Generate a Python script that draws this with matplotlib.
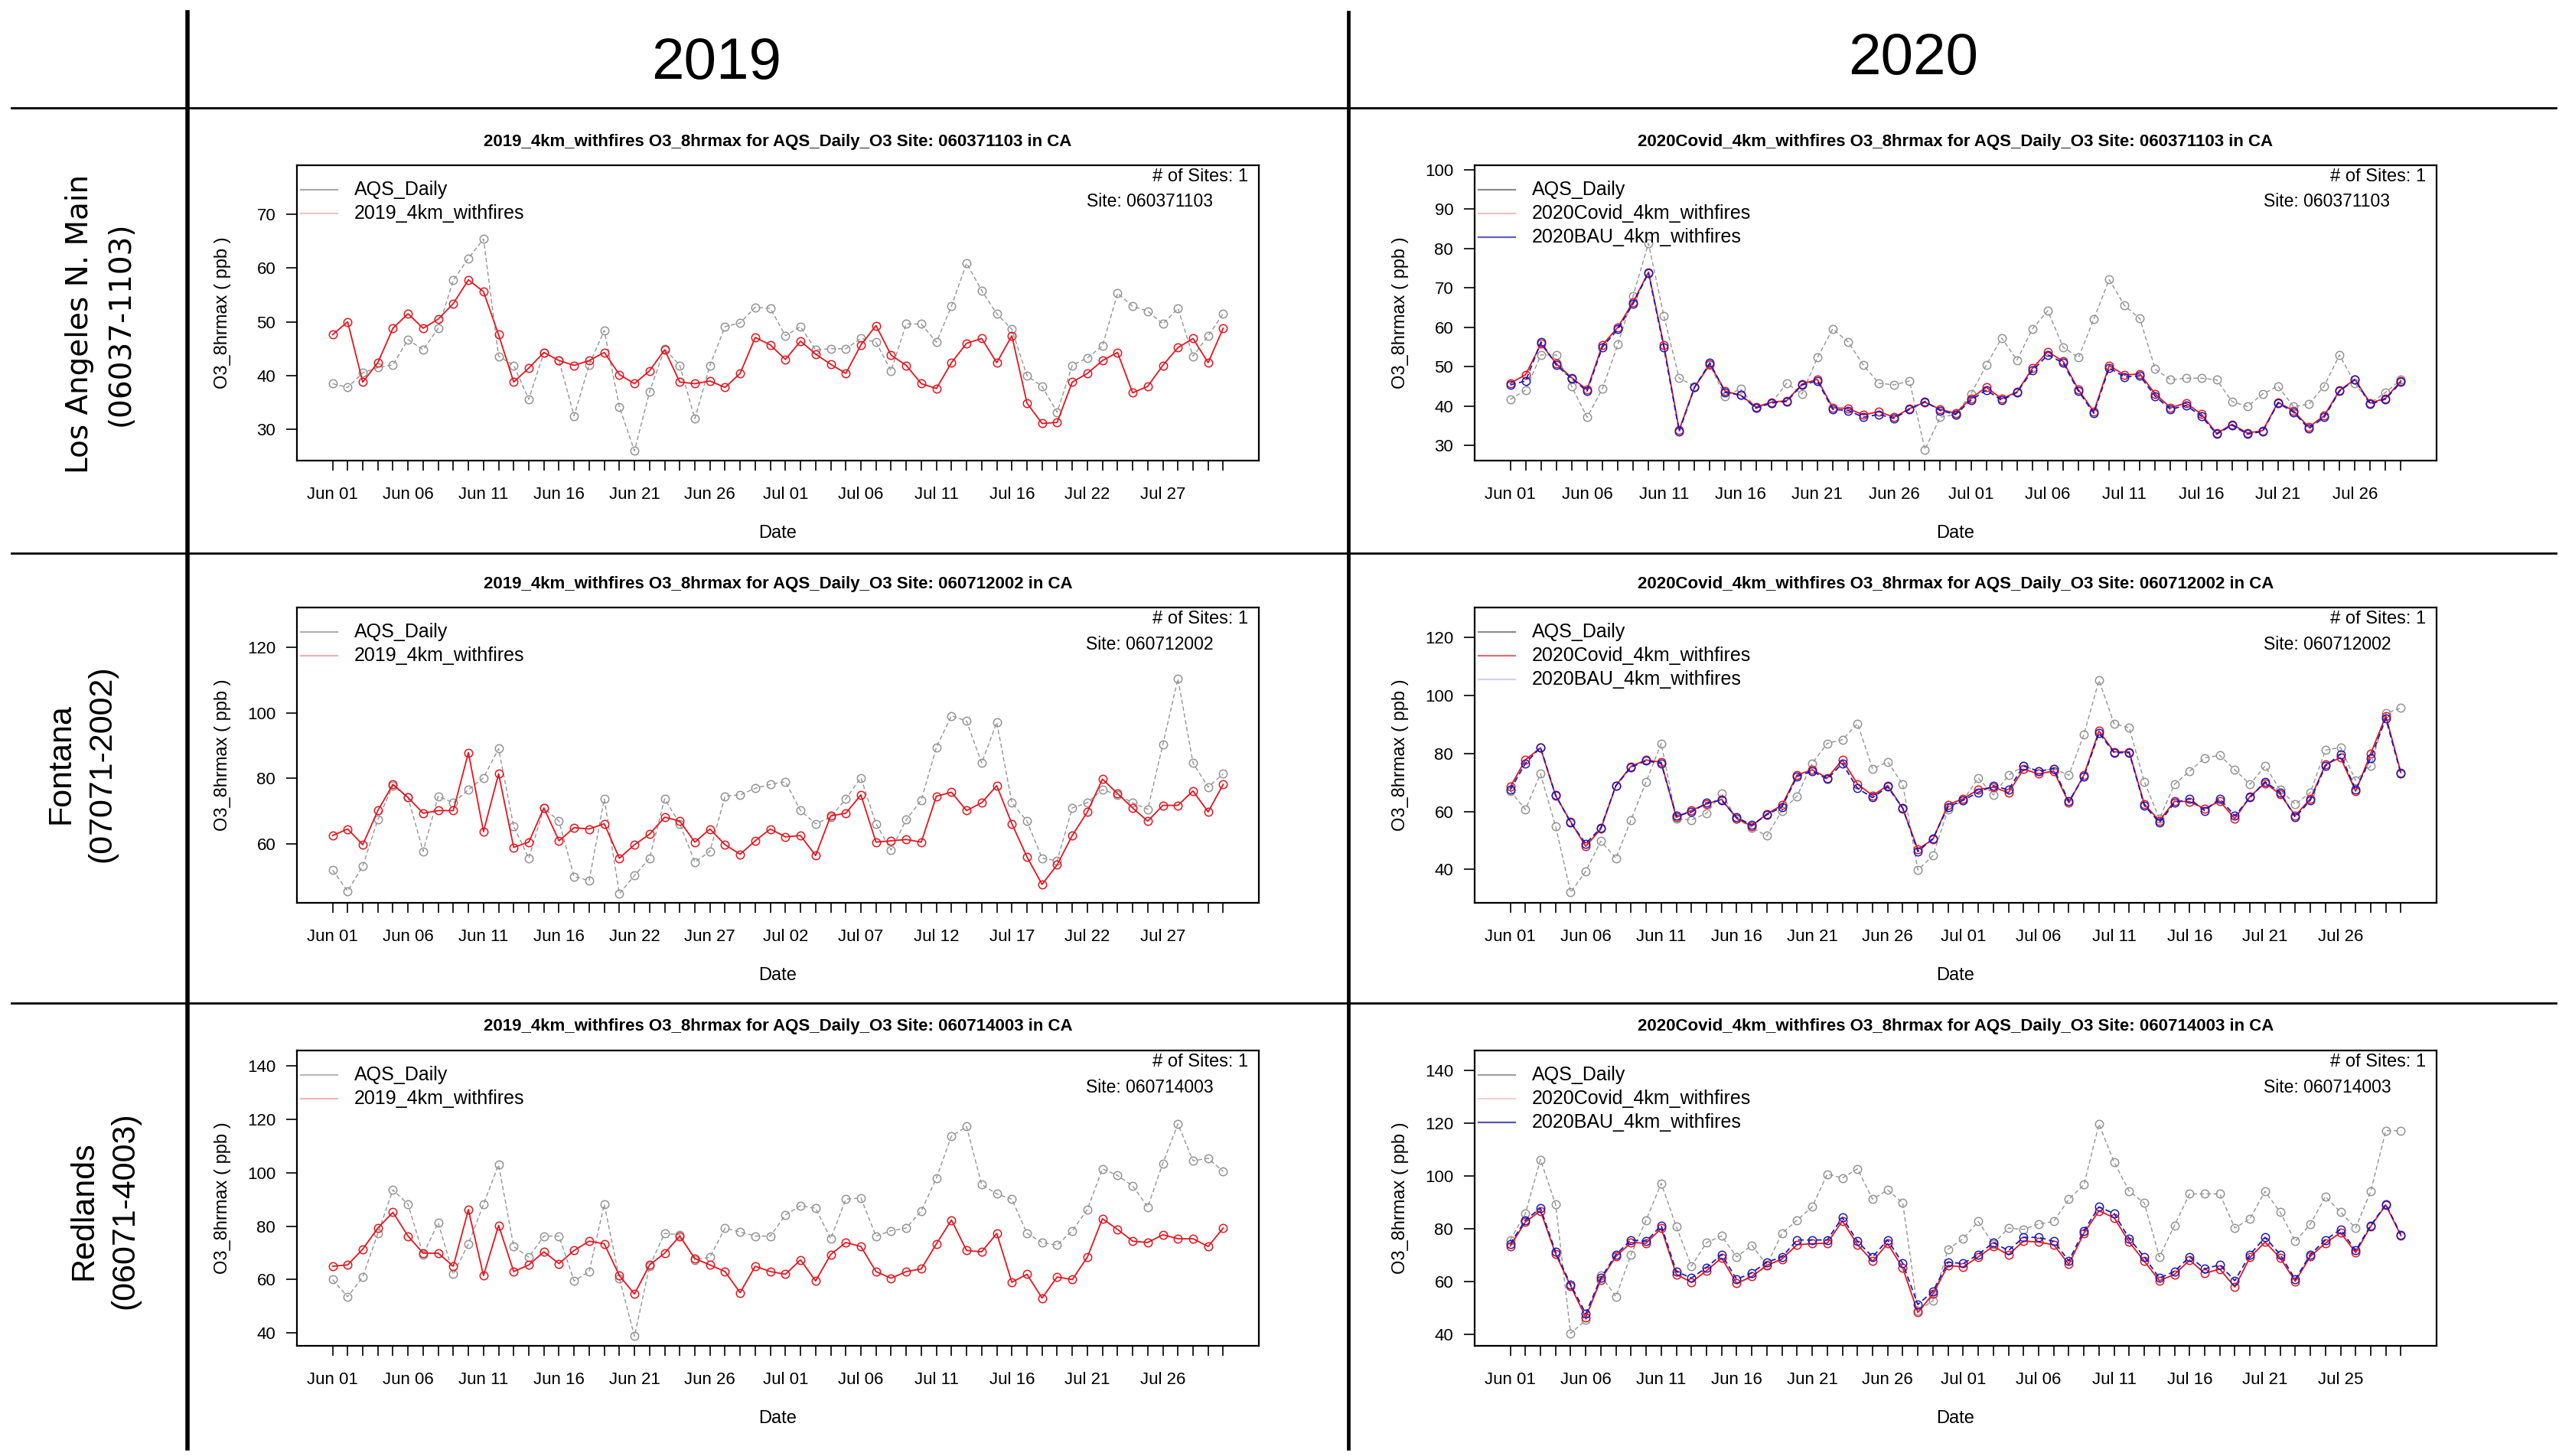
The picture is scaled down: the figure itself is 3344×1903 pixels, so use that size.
import matplotlib
matplotlib.use("Agg")
import matplotlib.pyplot as plt
from matplotlib.lines import Line2D

plt.rcParams['font.family'] = ['Liberation Sans', 'DejaVu Sans']

W, H = 3344, 1903

# ---------------- data (ppb) ----------------
la_2019_obs = [38.5, 37.8, 40.5, 41.5, 42, 46.7, 44.8, 48.8, 57.7, 61.8,
               65.4, 43.6, 41.9, 35.6, 44.3, 42.8, 32.5, 42, 48.4, 34.2,
               26, 37, 45, 41.9, 32, 41.9, 49.1, 49.8, 52.7, 52.5,
               47.4, 49.1, 44.8, 45, 45, 46.9, 46.2, 40.9, 49.6, 49.6,
               46.2, 52.9, 60.9, 55.8, 51.5, 48.6, 40, 38, 33.2, 41.9,
               43.3, 45.5, 55.3, 52.9, 52, 49.6, 52.5, 43.6, 47.4, 51.5]
la_2019_mod = [47.6, 50, 38.8, 42.4, 48.8, 51.5, 48.8, 50.5, 53.4, 57.8,
               55.6, 47.6, 38.8, 41.4, 44.3, 42.8, 41.9, 42.8, 44.3, 40.2,
               38.5, 40.9, 44.8, 38.8, 38.5, 39, 37.8, 40.4, 47.1, 45.7,
               43, 46.4, 44, 42.1, 40.4, 45.7, 49.3, 43.8, 41.9, 38.5,
               37.6, 42.4, 46, 46.9, 42.4, 47.4, 34.9, 31.1, 31.3, 38.8,
               40.4, 42.8, 44.3, 36.8, 38, 41.9, 45.2, 46.9, 42.4, 48.8]

la_2020_obs = [41.7, 44.1, 53, 53, 45, 37.2, 44.4, 55.6, 68, 81.3,
               62.9, 47.1, 45.1, 50.4, 42.5, 44.4, 39.5, 40.8, 45.8, 43.1,
               52.3, 59.6, 56.3, 50.4, 45.8, 45.4, 46.4, 29, 37.2, 37.9,
               43.1, 50.4, 57.3, 51.7, 59.6, 64.2, 55, 52.3, 62.1, 72.1,
               65.5, 62.2, 49.4, 46.7, 47.1, 47.1, 46.7, 41.2, 39.9, 43.1,
               45.1, 39.9, 40.5, 45.1, 53, 45.8, 40.8, 43.5, 46.7]
la_2020_covid = [45.8, 48.0, 55.8, 50.8, 47.2, 44.2, 55.5, 60.0, 66.4, 74.0,
                 55.5, 34.0, 44.8, 50.6, 43.8, 42.8, 39.8, 41.0, 41.4, 45.6,
                 46.8, 39.6, 39.4, 37.8, 38.6, 37.2, 39.4, 41.0, 39.2, 38.2,
                 42.0, 44.8, 41.9, 43.6, 49.6, 53.8, 51.4, 44.2, 38.6, 50.3,
                 47.9, 48.2, 43.1, 39.6, 40.8, 38.0, 33.1, 35.4, 33.2, 33.8,
                 41.0, 38.8, 34.7, 37.6, 44.0, 46.8, 40.8, 42.0, 46.4]
la_2020_bau = [45.4, 46.4, 56.3, 50.4, 47, 43.8, 55, 59.5, 66, 73.8,
               55, 33.6, 44.8, 51, 43.5, 42.8, 39.5, 40.8, 41.2, 45.4,
               46.4, 39.2, 38.9, 37.2, 37.9, 36.9, 39.2, 41.2, 38.9, 37.9,
               41.5, 44.1, 41.5, 43.5, 49, 53, 51, 43.8, 38.2, 49.7,
               47.4, 47.7, 42.5, 39.2, 40.2, 37.5, 32.9, 35.2, 32.9, 33.6,
               40.8, 38.5, 34.3, 37.2, 43.8, 46.7, 40.5, 41.8, 46.1]

fon_2019_obs = [52.1, 45.7, 53.3, 67.4, 77.8, 74.2, 57.8, 74.6, 72.6, 76.6,
                80.2, 89.1, 65.4, 55.7, 71, 67, 50.1, 48.9, 73.8, 44.9,
                50.4, 55.7, 73.8, 66.2, 54.5, 57.8, 74.6, 75, 77, 78.2,
                79, 70.2, 66.2, 68.2, 73.8, 80.2, 66.2, 58.2, 67.4, 73.4,
                89.5, 99.1, 97.5, 84.7, 97.1, 72.6, 67, 55.7, 54.9, 71,
                72.6, 76.6, 75, 72.6, 70.6, 90.3, 110.4, 84.7, 77.4, 81.4]
fon_2019_mod = [62.6, 64.6, 59.8, 70.2, 78.2, 74.2, 69.4, 70.2, 70.2, 87.9,
                63.8, 81.4, 59, 60.6, 71, 61, 65, 64.6, 66.2, 55.7,
                59.8, 63, 68.2, 67, 60.6, 64.6, 59.8, 56.9, 61, 64.6,
                62.2, 62.6, 56.5, 68.6, 69.4, 75, 60.6, 61, 61.4, 60.6,
                74.6, 75.8, 70.2, 72.6, 77.8, 66.2, 56.1, 47.7, 53.7, 62.6,
                69.8, 79.8, 75.4, 71, 67, 71.8, 71.8, 76.2, 69.8, 78.2]

fon_2020_obs = [67.1, 60.7, 73, 55, 32.1, 39.4, 49.8, 43.9, 57.1, 70.3,
                83.5, 57.5, 57.1, 59.4, 66.2, 57.5, 54.4, 51.6, 60.3, 65.3,
                76.6, 83.5, 84.8, 90.3, 74.8, 77.1, 69.4, 39.8, 44.8, 60.7,
                63.9, 71.6, 65.7, 72.5, 75.7, 73.9, 74.8, 72.5, 86.6, 105.3,
                90.3, 88.9, 70.3, 57.5, 69.4, 73.9, 78.5, 79.4, 74.4, 69.4,
                75.7, 67.5, 62.5, 66.6, 81.2, 82.1, 70.7, 75.7, 93.9, 95.7]
fon_2020_covid = [68.5, 77.8, 82.0, 65.5, 56.5, 48.0, 54.0, 69.0, 75.6, 77.8,
                  77.0, 58.0, 60.4, 62.6, 64.2, 57.6, 55.0, 59.2, 62.2, 72.6,
                  74.4, 71.6, 77.8, 69.5, 65.5, 69.0, 61.0, 47.0, 50.4, 62.4,
                  64.4, 67.6, 68.4, 66.5, 74.6, 73.0, 74.0, 63.0, 72.6, 87.8,
                  80.6, 80.6, 62.6, 56.8, 63.6, 63.4, 61.0, 63.6, 57.5, 65.2,
                  69.8, 66.0, 58.6, 64.4, 76.2, 78.6, 67.0, 80.0, 93.0, 73.4]
fon_2020_bau = [67.5, 76.6, 82.1, 65.7, 56.2, 48.9, 54.4, 68.9, 75.3, 77.5,
                76.6, 58.5, 59.8, 63, 63.9, 58, 55.3, 58.9, 61.6, 72.1,
                73.9, 71.2, 76.6, 68, 64.8, 68.5, 61.2, 46.2, 50.7, 61.6,
                63.9, 66.6, 68.9, 67.5, 75.7, 73.9, 74.8, 63.5, 72.1, 87.1,
                80.3, 80.3, 62.1, 56.2, 63, 64.4, 60.3, 64.4, 58.5, 64.8,
                70.3, 66.6, 58, 63.9, 75.7, 79.8, 67.5, 78.5, 92.1, 73]

red_2019_obs = [60, 53.6, 61, 77.3, 93.6, 88.2, 69.4, 81.3, 62, 73.4,
                88.2, 103, 72.4, 68.4, 76.3, 76.3, 59.5, 63, 88.2, 60.5,
                38.8, 65, 77.3, 76.8, 67.4, 68.4, 79.3, 77.8, 76.3, 76.3,
                84.2, 87.7, 86.7, 75.3, 90.1, 90.6, 76.3, 78.3, 79.3, 85.7,
                98, 113.8, 117.3, 95.6, 92.1, 90.1, 77.3, 73.9, 72.9, 78.3,
                86.2, 101.5, 99, 95.1, 87.2, 103.5, 118.3, 104.5, 105.4, 100.5]
red_2019_mod = [65, 65.5, 71.4, 79.3, 85.2, 76.3, 69.9, 69.9, 65, 86.2,
                61.5, 80.3, 63, 65.5, 70.4, 66, 70.9, 74.4, 73.4, 61.5,
                54.6, 65.5, 69.9, 76.3, 67.9, 65.5, 63, 55.1, 65, 63,
                62, 67.4, 59.5, 69.4, 73.9, 72.4, 63, 60.5, 63, 64,
                73.4, 82.3, 70.9, 70.4, 77.3, 59, 62, 53.1, 61, 60,
                68.4, 82.8, 78.8, 74.4, 73.9, 76.8, 75.3, 75.3, 72.4, 79.3]

red_2020_obs = [75.8, 85.8, 106.2, 89.3, 40.5, 45.5, 62.4, 54.4, 70.3, 83.3,
                97.2, 80.8, 65.9, 74.8, 77.3, 69.4, 73.8, 66.4, 78.3, 83.3,
                88.3, 100.7, 99.2, 102.7, 91.2, 94.7, 89.8, 49, 52.9, 72.3,
                76.3, 82.8, 74.3, 80.3, 79.8, 81.8, 82.8, 91.2, 96.7, 119.6,
                105.2, 94.2, 89.8, 69.4, 81.3, 93.2, 93.2, 93.2, 80.3, 83.8,
                94.2, 86.3, 75.3, 81.8, 92.2, 86.3, 80.3, 94.2, 117.1, 117.1]
red_2020_covid = [73.5, 82.6, 86.8, 70.6, 58.4, 46.6, 60.8, 69.6, 74.8, 74.6,
                  80.2, 62.8, 59.8, 64.2, 69.0, 59.4, 62.0, 66.2, 68.6, 74.0,
                  74.4, 74.6, 83.0, 74.0, 67.8, 74.4, 65.2, 48.4, 55.4, 66.2,
                  65.6, 69.4, 73.4, 70.2, 75.4, 75.0, 74.0, 66.6, 78.4, 86.8,
                  84.2, 75.0, 67.8, 60.4, 62.8, 68.2, 63.2, 64.8, 58.0, 69.2,
                  75.0, 69.0, 60.2, 69.6, 74.6, 78.6, 71.0, 81.0, 89.0, 77.4]
red_2020_bau = [74.3, 83.3, 87.8, 71.3, 58.9, 48, 61.4, 70.3, 75.8, 75.3,
                81.3, 63.9, 61.4, 65.4, 70.3, 60.9, 63.4, 67.4, 69.4, 75.8,
                75.8, 75.8, 84.3, 75.3, 69.4, 75.8, 66.9, 51.4, 56.4, 67.4,
                66.9, 70.3, 74.8, 71.8, 76.8, 76.8, 75.3, 67.9, 79.3, 88.3,
                85.8, 76.3, 69.4, 61.4, 63.9, 69.4, 64.9, 66.4, 60.4, 70.3,
                76.8, 70.3, 60.9, 70.3, 75.8, 79.8, 71.8, 81.3, 89.3, 77.8]

# date labels (one every 5 records)
ticks_la_2019 = ['Jun 01', 'Jun 06', 'Jun 11', 'Jun 16', 'Jun 21', 'Jun 26',
                 'Jul 01', 'Jul 06', 'Jul 11', 'Jul 16', 'Jul 22', 'Jul 27']
ticks_fon_2019 = ['Jun 01', 'Jun 06', 'Jun 11', 'Jun 16', 'Jun 22', 'Jun 27',
                  'Jul 02', 'Jul 07', 'Jul 12', 'Jul 17', 'Jul 22', 'Jul 27']
ticks_std = ['Jun 01', 'Jun 06', 'Jun 11', 'Jun 16', 'Jun 21', 'Jun 26',
             'Jul 01', 'Jul 06', 'Jul 11', 'Jul 16', 'Jul 21', 'Jul 26']
ticks_red_2020 = ['Jun 01', 'Jun 06', 'Jun 11', 'Jun 16', 'Jun 21', 'Jun 26',
                  'Jul 01', 'Jul 06', 'Jul 11', 'Jul 16', 'Jul 21', 'Jul 25']

years = ['2019', '2020']
site_ids = ['060371103', '060712002', '060714003']
site_names = ['Los Angeles N. Main\n(06037-1103)', 'Fontana\n(07071-2002)',
              'Redlands\n(06071-4003)']
legend_2019 = ['AQS_Daily', '2019_4km_withfires']
legend_2020 = ['AQS_Daily', '2020Covid_4km_withfires', '2020BAU_4km_withfires']
titles = ['2019_4km_withfires O3_8hrmax for AQS_Daily_O3 Site: {} in CA',
          '2020Covid_4km_withfires O3_8hrmax for AQS_Daily_O3 Site: {} in CA']

GRAY, RED, BLUE = '#949494', '#e8141c', '#1a1ac0'
DASH = (0, (4, 2.5))


def fx(x):
    return x / W


def fy(y):
    return 1 - y / H


cols = [(388, 1645), (1927, 3184)]
rows = [(216, 602), (794, 1180), (1373, 1759)]

panels = [
    dict(r=0, c=0, series=[la_2019_obs, la_2019_mod], ylim=(24.2, 79.1),
         yt=[30, 40, 50, 60, 70], xl=ticks_la_2019,
         leg=['#aaaaaa', '#f4c4c4']),
    dict(r=0, c=1, series=[la_2020_obs, la_2020_covid, la_2020_bau], ylim=(26.2, 101.1),
         yt=[30, 40, 50, 60, 70, 80, 90, 100], xl=ticks_std,
         leg=['#8c8c8c', '#f0c0c0', '#6262b8']),
    dict(r=1, c=0, series=[fon_2019_obs, fon_2019_mod], ylim=(42.1, 132.1),
         yt=[60, 80, 100, 120], xl=ticks_fon_2019,
         leg=['#b0b0b0', '#f2b0b0']),
    dict(r=1, c=1, series=[fon_2020_obs, fon_2020_covid, fon_2020_bau], ylim=(28.5, 130.4),
         yt=[40, 60, 80, 100, 120], xl=ticks_std,
         leg=['#8c8c8c', '#e07070', '#d0d0ee']),
    dict(r=2, c=0, series=[red_2019_obs, red_2019_mod], ylim=(35.2, 145.8),
         yt=[40, 60, 80, 100, 120, 140], xl=ticks_std,
         leg=['#b8b8b8', '#f2b8b8']),
    dict(r=2, c=1, series=[red_2020_obs, red_2020_covid, red_2020_bau], ylim=(35.8, 147.4),
         yt=[40, 60, 80, 100, 120, 140], xl=ticks_red_2020,
         leg=['#a0a0a0', '#f5d0d0', '#5656b4']),
]

fig = plt.figure(figsize=(W / 100, H / 100), dpi=100)

for p in panels:
    x0, x1 = cols[p['c']]
    y0, y1 = rows[p['r']]
    ax = fig.add_axes([fx(x0), fy(y1), (x1 - x0) / W, (y1 - y0) / H])
    n = len(p['series'][0])
    idx = list(range(n))
    styles = [(GRAY, DASH, 1.0), (RED, '-', 1.3), (BLUE, DASH, 1.3)]
    for s, (col, ls, lw) in zip(p['series'], styles):
        ax.plot(idx, s, color=col, lw=lw, ls=ls, marker='o', ms=7.5, mfc='none',
                mec=col, mew=1.1)
    ax.set_xlim(-0.04 * (n - 1), 1.04 * (n - 1))
    ax.set_ylim(*p['ylim'])
    ax.set_yticks(p['yt'])
    labels = [''] * n
    for k, lab in enumerate(p['xl']):
        labels[5 * k] = lab
    ax.set_xticks(idx)
    ax.set_xticklabels(labels)
    ax.tick_params(axis='x', length=9.4, width=1.2, pad=15, labelsize=16)
    ax.tick_params(axis='y', length=10, width=1.2, pad=10, labelsize=16)
    for sp in ax.spines.values():
        sp.set_linewidth(1.6)

    cx = (x0 + x1) / 2
    fig.text(fx(cx), fy(y0 - 31), titles[p['c']].format(site_ids[p['r']]),
             ha='center', va='center', fontsize=16, fontweight='bold')
    fig.text(fx(cx), fy(y1 + 95), 'Date', ha='center', va='center', fontsize=17)
    fig.text(fx(x0 - 97), fy((y0 + y1) / 2), 'O3_8hrmax ( ppb )', rotation=90,
             ha='center', va='center', fontsize=17)
    fig.text(fx(x1 - 14), fy(y0 + 15), '# of Sites: 1', ha='right', va='center',
             fontsize=17)
    fig.text(fx(x1 - 143), fy(y0 + 48), 'Site: ' + site_ids[p['r']], ha='center',
             va='center', fontsize=16.5)
    names = legend_2019 if p['c'] == 0 else legend_2020
    for i, (lab, lc) in enumerate(zip(names, p['leg'])):
        yy = y0 + 32 + 31 * i
        fig.add_artist(Line2D([fx(x0 + 5), fx(x0 + 53)], [fy(yy), fy(yy)],
                              color=lc, lw=1.6))
        fig.text(fx(x0 + 75), fy(yy), lab, ha='left', va='center', fontsize=18)

# table frame
fig.add_artist(Line2D([fx(245), fx(245)], [fy(16), fy(1893)], color='black', lw=4.0))
fig.add_artist(Line2D([fx(1762), fx(1762)], [fy(16), fy(1893)], color='black', lw=3.4))
for yy in [141, 723, 1311]:
    fig.add_artist(Line2D([fx(15), fx(3340)], [fy(yy), fy(yy)], color='black', lw=2.0))

fig.text(fx(936), fy(83), years[0], ha='center', va='center', fontsize=55)
fig.text(fx(2500), fy(78), years[1], ha='center', va='center', fontsize=55)

fig.text(fx(131), fy(423), site_names[0], rotation=90, ha='center', va='center',
         multialignment='center', fontsize=28, family=['DejaVu Sans'], linespacing=1.5)
fig.text(fx(106), fy(998), site_names[1], rotation=90, ha='center', va='center',
         multialignment='center', fontsize=31, linespacing=1.45)
fig.text(fx(136), fy(1582), site_names[2], rotation=90, ha='center', va='center',
         multialignment='center', fontsize=31, linespacing=1.45)

fig.savefig('out.png', dpi=100)
